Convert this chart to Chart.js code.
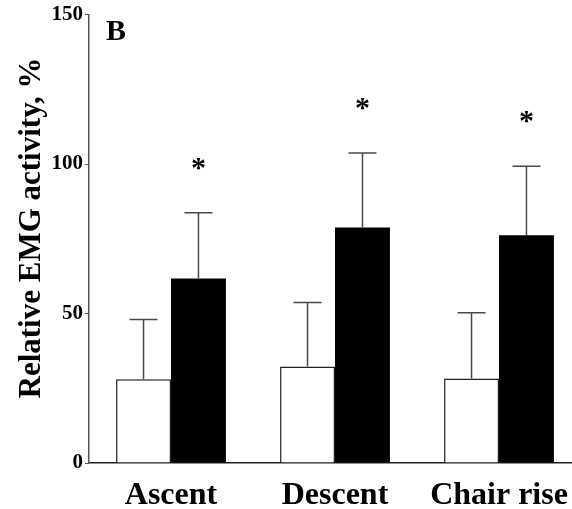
<!DOCTYPE html>
<html>
<head>
<meta charset="utf-8">
<script src="https://cdn.jsdelivr.net/npm/chart.js@4"></script>
<style>
  html, body { margin: 0; padding: 0; background: #fff; overflow: hidden; }
  #wrap { width: 592px; height: 509px; }
</style>
</head>
<body>
<div id="wrap"><canvas id="emgChart" width="592" height="509"></canvas></div>
<script>
// categories and values
const tasks = ['Ascent', 'Descent', 'Chair rise'];
const controlMean = [28, 32.3, 28.3];
const controlSd = [20, 21.4, 22];
const patientMean = [61.7, 78.8, 76.2];
const patientSd = [22, 24.9, 23.1];
const significant = [true, true, true];
const yTicks = [0, 50, 100, 150];
const yTitle = 'Relative EMG activity, %';

const serif = '"Liberation Serif", "Times New Roman", serif';

// error bars (upper whisker only) + asterisks + panel letter + y title
const errorBarPlugin = {
    id: 'errorBars',
    afterDatasetsDraw(chart) {
        const ctx = chart.ctx;
        const yScale = chart.scales.y;
        const sds = [controlSd, patientSd];
        ctx.save();
        ctx.strokeStyle = '#4a4a4a';
        ctx.lineWidth = 1.5;
        chart.data.datasets.forEach((ds, di) => {
            const meta = chart.getDatasetMeta(di);
            meta.data.forEach((bar, i) => {
                const topVal = ds.data[i] + sds[di][i];
                const yTop = yScale.getPixelForValue(topVal);
                ctx.beginPath();
                ctx.moveTo(bar.x, bar.y);
                ctx.lineTo(bar.x, yTop);
                ctx.moveTo(bar.x - 14, yTop);
                ctx.lineTo(bar.x + 14, yTop);
                ctx.stroke();
                // significance mark over patient bars
                if (di === 1 && significant[i]) {
                    ctx.fillStyle = '#000';
                    ctx.font = 'bold 30px ' + serif;
                    ctx.textAlign = 'center';
                    ctx.textBaseline = 'middle';
                    ctx.fillText('*', bar.x, yTop - 44);
                }
            });
        });
        // panel label
        ctx.fillStyle = '#000';
        ctx.font = 'bold 30px ' + serif;
        ctx.textAlign = 'left';
        ctx.textBaseline = 'alphabetic';
        ctx.fillText('B', 106, 40);
        // rotated axis title
        ctx.translate(40, 228);
        ctx.rotate(-Math.PI / 2);
        ctx.font = 'bold 31px ' + serif;
        ctx.textAlign = 'center';
        ctx.fillText(yTitle, 0, 0);
        ctx.restore();
    }
};

new Chart(document.getElementById('emgChart'), {
    type: 'bar',
    data: {
        labels: tasks,
        datasets: [{
            label: 'Control',
            data: controlMean,
            backgroundColor: '#fff',
            borderColor: '#222',
            borderWidth: 1.5,
            borderSkipped: 'bottom'
        }, {
            label: 'Patients',
            data: patientMean,
            backgroundColor: '#000',
            borderColor: '#000',
            borderWidth: 0
        }]
    },
    options: {
        responsive: false,
        animation: false,
        devicePixelRatio: 1,
        categoryPercentage: 0.67,
        barPercentage: 1,
        layout: { padding: { top: 13, right: 11, left: 0, bottom: 0 } },
        plugins: {
            legend: { display: false },
            tooltip: { enabled: false }
        },
        scales: {
            x: {
                grid: { display: true, drawOnChartArea: false, drawTicks: false },
                border: { color: '#222', width: 1.5 },
                ticks: {
                    color: '#000',
                    padding: 14,
                    font: { family: serif, size: 32, weight: 'bold' }
                },
                afterFit(scale) { scale.height = 46; }
            },
            y: {
                min: 0,
                max: 150,
                afterBuildTicks(scale) { scale.ticks = yTicks.map(v => ({ value: v })); },
                grid: { drawOnChartArea: false, drawTicks: true, tickLength: 4, color: '#555' },
                border: { color: '#555', width: 1.5 },
                ticks: {
                    color: '#000',
                    padding: 2,
                    font: { family: serif, size: 21, weight: 'bold' }
                },
                afterFit(scale) { scale.width = 89; }
            }
        }
    },
    plugins: [errorBarPlugin]
});
</script>
</body>
</html>
